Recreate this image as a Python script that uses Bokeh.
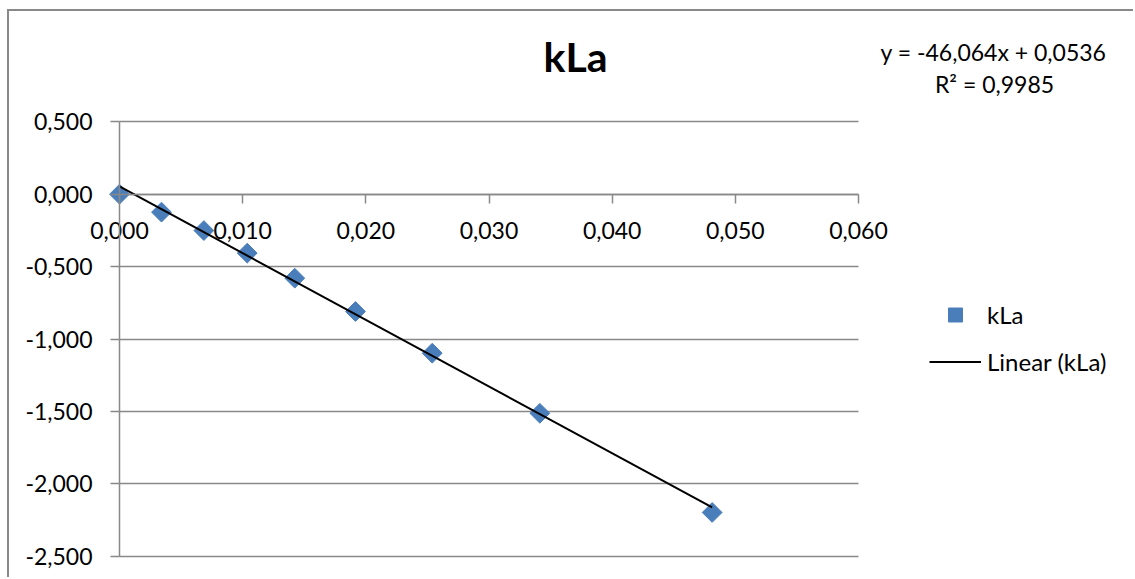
import math
from bokeh.plotting import figure
from bokeh.models import (Range1d, FixedTicker, CustomJSTickFormatter, Label,
                          Legend, LegendItem, Grid)
from bokeh.embed import file_html
from bokeh.resources import INLINE

# ---- data ----
x_vals = [0.0000, 0.00341, 0.00685, 0.01037, 0.01423, 0.01916, 0.02539, 0.03413, 0.04812]
y_vals = [0.000, -0.124, -0.251, -0.407, -0.580, -0.810, -1.098, -1.513, -2.198]
slope = -46.064
intercept = 0.0536
x_ticks = [0.0, 0.01, 0.02, 0.03, 0.04, 0.05, 0.06]
x_tick_labels = ["0,000", "0,010", "0,020", "0,030", "0,040", "0,050", "0,060"]
y_ticks = [-2.5, -2.0, -1.5, -1.0, -0.5, 0.0, 0.5]
y_tick_labels = ["-2,500", "-2,000", "-1,500", "-1,000", "-0,500", "0,000", "0,500"]
title_text = "kLa"
series_name = "kLa"
trend_name = "Linear (kLa)"
equation_text = "y = -46,064x + 0,0536"
r2_text = "R² = 0,9985"

# trend line over the data's x span, from the stated equation
x_fit = [min(x_vals), max(x_vals)]
y_fit = [slope * xv + intercept for xv in x_fit]

FONT = "Lato"
GRID = "#898989"
BLUE = "#4A7EBB"

# ---- layout (pixels) ----
CANVAS_W, CANVAS_H = 1124, 566
AREA_L, AREA_R, AREA_T, AREA_B = 110, 849, 110.3, 544.7   # plot area inside the canvas
x_lo, x_hi = x_ticks[0], x_ticks[-1]
y_lo, y_hi = y_ticks[0], y_ticks[-1]
xs = (x_hi - x_lo) / (AREA_R - AREA_L)
ys = (y_hi - y_lo) / (AREA_B - AREA_T)
x_range = Range1d(x_lo - AREA_L * xs, x_hi + (CANVAS_W - AREA_R) * xs)
y_range = Range1d(y_lo - (CANVAS_H - AREA_B) * ys, y_hi + AREA_T * ys)

p = figure(frame_width=CANVAS_W, frame_height=CANVAS_H, output_backend="svg",
           toolbar_location=None, x_range=x_range, y_range=y_range, min_border=0,
           min_border_left=0, min_border_right=0, min_border_top=0, min_border_bottom=0)
p.title.visible = False
p.styles = {"margin-left": "7px", "margin-top": "9px",
            "border-top": "2px solid #898989", "border-left": "2px solid #898989"}
p.outline_line_color = None
p.background_fill_color = "white"
p.border_fill_color = "white"

fmt_js = """
let best = 0;
for (let i = 0; i < tvals.length; i++) {
  if (Math.abs(tvals[i] - tick) < Math.abs(tvals[best] - tick)) best = i;
}
return tlabels[best];
"""

xa = p.xaxis[0]
xa.ticker = FixedTicker(ticks=x_ticks)
xa.formatter = CustomJSTickFormatter(args=dict(tvals=x_ticks, tlabels=x_tick_labels), code=fmt_js)
xa.fixed_location = 0
xa.bounds = (x_lo, x_hi)

ya = p.yaxis[0]
ya.ticker = FixedTicker(ticks=y_ticks)
ya.formatter = CustomJSTickFormatter(args=dict(tvals=y_ticks, tlabels=y_tick_labels), code=fmt_js)
ya.fixed_location = x_lo
ya.bounds = (y_lo, y_hi)

for ax in (xa, ya):
    ax.axis_line_color = GRID
    ax.axis_line_width = 1.5
    ax.major_tick_line_color = GRID
    ax.major_tick_line_width = 1.5
    ax.major_tick_out = 9
    ax.major_tick_in = 0
    ax.minor_tick_out = 0
    ax.minor_tick_in = 0
    ax.major_label_text_font = FONT
    ax.major_label_text_font_size = "23px"
    ax.major_label_text_color = "black"
xa.major_label_standoff = 19
ya.major_label_standoff = 18

p.xgrid.visible = False
p.ygrid.ticker = FixedTicker(ticks=y_ticks)
p.ygrid.grid_line_color = GRID
p.ygrid.grid_line_width = 1.5
p.ygrid.bounds = (y_lo, y_hi)
if "cross_bounds" in Grid.properties():
    p.ygrid.cross_bounds = (x_lo, x_hi)
else:
    p.ygrid.visible = False
    p.segment(x0=[x_lo] * len(y_ticks), x1=[x_hi] * len(y_ticks), y0=y_ticks, y1=y_ticks,
              line_color=GRID, line_width=1.5, level="underlay")

sc = p.scatter(x_vals, y_vals, marker="square", size=14, angle=math.pi / 4,
               fill_color=BLUE, line_color=BLUE)
ln = p.line(x_fit, y_fit, line_color="black", line_width=2)

# legend: left edge / bottom edge in pixels from the canvas' bottom-left
legend = Legend(items=[LegendItem(label=series_name, renderers=[sc]),
                       LegendItem(label=trend_name, renderers=[ln])],
                location=(920, 198), orientation="vertical",
                border_line_color=None, background_fill_alpha=0,
                glyph_width=52, glyph_height=35, label_height=20, spacing=12,
                label_standoff=6, padding=10, margin=0,
                label_text_font=FONT, label_text_font_size="24px",
                label_text_color="black")
p.add_layout(legend, "center")

p.add_layout(Label(x=564, y=43, x_units="canvas", y_units="canvas", text=title_text,
                   text_font=FONT, text_font_size="41px", text_font_style="bold",
                   text_color="black", text_align="center", text_baseline="middle"))
p.add_layout(Label(x=982, y=38, x_units="canvas", y_units="canvas", text=equation_text,
                   text_font=FONT, text_font_size="23px", text_color="black",
                   text_align="center", text_baseline="middle"))
p.add_layout(Label(x=983, y=70, x_units="canvas", y_units="canvas", text=r2_text,
                   text_font=FONT, text_font_size="23px", text_color="black",
                   text_align="center", text_baseline="middle"))

open("out.html", "w").write(file_html(p, INLINE))
